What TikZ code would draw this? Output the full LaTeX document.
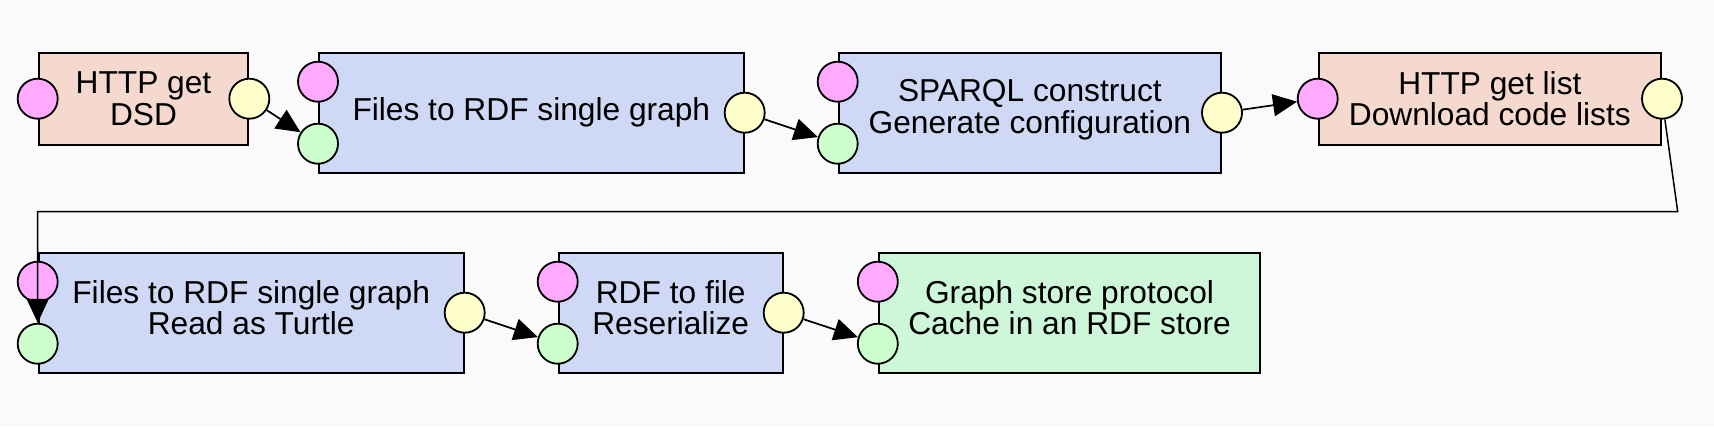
\documentclass[tikz,border=0pt]{standalone}
\usepackage{fontspec}
\setmainfont{Liberation Sans}
\usetikzlibrary{arrows.meta}
\definecolor{bgc}{RGB}{250,250,250}
\definecolor{salmonc}{RGB}{246,217,206}
\definecolor{bluec}{RGB}{207,216,245}
\definecolor{greenc}{RGB}{206,246,217}
\definecolor{magport}{RGB}{255,170,255}
\definecolor{yelport}{RGB}{255,255,204}
\definecolor{grnport}{RGB}{204,255,204}
\tikzset{
  box/.style={draw=black, line width=2pt, rectangle, anchor=north west, inner sep=0pt},
  lbl/.style={inner sep=0pt, align=center, font=\fontsize{31.7}{31.5}\selectfont},
  port/.style={draw=black, line width=1.8pt, circle, minimum size=40pt, inner sep=0pt},
  mport/.style={port, fill=magport},
  yport/.style={port, fill=yelport},
  gport/.style={port, fill=grnport},
  conn/.style={line width=1.7pt, -{Triangle[length=24pt,width=22pt]}},
}
\begin{document}
\begin{tikzpicture}[x=1pt,y=-1pt]
\fill[bgc] (0,0) rectangle (1714,426);
\path[use as bounding box] (0,0) rectangle (1714,426);

% boxes
\node[box, fill=salmonc, minimum width=209.6pt, minimum height=92pt] (b1) at (37.7,51.7) {};
\node[box, fill=bluec, minimum width=424.7pt, minimum height=120pt] (b2) at (318,51.7) {};
\node[box, fill=bluec, minimum width=382.3pt, minimum height=120pt] (b3) at (837.7,51.7) {};
\node[box, fill=salmonc, minimum width=342.3pt, minimum height=92pt] (b4) at (1317.7,51.7) {};
\node[box, fill=bluec, minimum width=425pt, minimum height=120pt] (b5) at (37.7,251.7) {};
\node[box, fill=bluec, minimum width=224pt, minimum height=120pt] (b6) at (557.7,251.7) {};
\node[box, fill=greenc, minimum width=381.5pt, minimum height=120pt] (b7) at (877.8,251.7) {};

% labels
\node[lbl] (t1) at (b1.center) {HTTP get\\DSD};
\node[lbl] (t2) at (b2.center) {Files to RDF single graph};
\node[lbl] (t3) at ([yshift=3pt]b3.center) {SPARQL construct\\Generate configuration};
\node[lbl] (t4) at (b4.center) {HTTP get list\\Download code lists};
\node[lbl] (t5) at ([yshift=5pt]b5.center) {Files to RDF single graph\\Read as Turtle};
\node[lbl] (t6) at ([yshift=5pt]b6.center) {RDF to file\\Reserialize};
\node[lbl] (t7) at ([yshift=5pt]b7.center) {Graph store protocol\\Cache in an RDF store};

% ports
\node[mport] (b1m) at (b1.west) {};
\node[yport] (b1y) at (b1.east) {};
\node[mport] (b2m) at ([yshift=-30pt]b2.north west) {};
\node[gport] (b2g) at ([yshift=30pt]b2.south west) {};
\node[yport] (b2y) at (b2.east) {};
\node[mport] (b3m) at ([yshift=-30pt]b3.north west) {};
\node[gport] (b3g) at ([yshift=30pt]b3.south west) {};
\node[yport] (b3y) at (b3.east) {};
\node[mport] (b4m) at (b4.west) {};
\node[yport] (b4y) at (b4.east) {};
\node[mport] (b5m) at ([yshift=-30pt]b5.north west) {};
\node[gport] (b5g) at ([yshift=30pt]b5.south west) {};
\node[yport] (b5y) at (b5.east) {};
\node[mport] (b6m) at ([yshift=-30pt]b6.north west) {};
\node[gport] (b6g) at ([yshift=30pt]b6.south west) {};
\node[yport] (b6y) at (b6.east) {};
\node[mport] (b7m) at ([yshift=-30pt]b7.north west) {};
\node[gport] (b7g) at ([yshift=30pt]b7.south west) {};

% connectors
\coordinate (c1) at (1677.7,211.7);
\draw[conn] (b1y) -- (b2g);
\draw[conn] (b2y) -- (b3g);
\draw[conn] (b3y) -- (b4m);
\draw[conn, line width=1.5pt] (b4y) -- (c1) -| (b5g);
\draw[conn] (b5y) -- (b6g);
\draw[conn] (b6y) -- (b7g);
\end{tikzpicture}
\end{document}
